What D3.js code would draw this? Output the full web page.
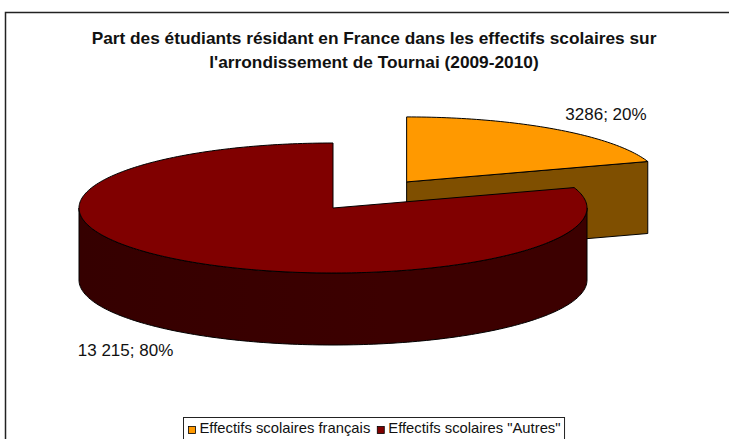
<!DOCTYPE html>
<html>
<head>
<meta charset="utf-8">
<script src="https://cdn.jsdelivr.net/npm/d3@7"></script>
<style>
  body { margin: 0; background: #fff; }
  svg { display: block; font-family: Arial, "Liberation Sans", sans-serif; }
</style>
</head>
<body>
<div id="chart"></div>
<script>
// data
const categories = ["Effectifs scolaires français", "Effectifs scolaires \"Autres\""];
const values = [3286, 13215];
const labels = ["3286; 20%", "13 215; 80%"];
const titleLines = [
  "Part des étudiants résidant en France dans les effectifs scolaires sur",
  "l'arrondissement de Tournai (2009-2010)"
];
const topColors = ["#ff9900", "#800000"];
const sideColors = ["#7f4f00", "#3c0000"];

const width = 729, height = 439;

const svg = d3.select("#chart").append("svg")
  .attr("width", width)
  .attr("height", height);

// outer frame (goes past the right / bottom of the picture)
svg.append("rect")
  .attr("x", 5.5).attr("y", 12.5)
  .attr("width", 900).attr("height", 600)
  .attr("fill", "none")
  .attr("stroke", "#222")
  .attr("stroke-width", 1.5);

// title
svg.selectAll(".title")
  .data(titleLines)
  .join("text")
  .attr("class", "title")
  .attr("x", 374)
  .attr("y", (d, i) => 44 + i * 24)
  .attr("text-anchor", "middle")
  .style("font-size", "17.3px")
  .style("font-weight", "bold")
  .attr("fill", "#111")
  .text(d => d);

// 3d pie geometry
const cx = 333, cy = 208, rx = 254, ry = 65, depth = 72;
const explode = [0.495, 0];

const pie = d3.pie().sort(null).startAngle(0).endAngle(2 * Math.PI);
const arcs = pie(values);

// point on ellipse; angle measured clockwise from the top
const pt = (c, a, dy = 0) => [c[0] + rx * Math.sin(a), c[1] - ry * Math.cos(a) + dy];
const line = d3.line();

function rimPoints(c, a0, a1, dy) {
  const n = Math.max(2, Math.ceil(Math.abs(a1 - a0) / 0.02));
  return d3.range(n + 1).map(i => pt(c, a0 + (a1 - a0) * i / n, dy));
}

arcs.forEach((d, i) => {
  const mid = (d.startAngle + d.endAngle) / 2;
  d.center = [cx + explode[i] * rx * Math.sin(mid), cy - explode[i] * ry * Math.cos(mid)];
  d.mid = mid;
});

const defs = svg.append("defs");
sideColors.forEach((c, i) => {
  const g = defs.append("linearGradient").attr("id", "side" + i)
    .attr("x1", "0%").attr("x2", "100%");
  g.append("stop").attr("offset", "0%").attr("stop-color", d3.color(c).darker(0.35));
  g.append("stop").attr("offset", "60%").attr("stop-color", c);
  g.append("stop").attr("offset", "100%").attr("stop-color", c);
});

const pieG = svg.append("g");

arcs.forEach((d, i) => {
  const g = pieG.append("g");
  const c = d.center;
  const a0 = d.startAngle, a1 = d.endAngle;

  // radial faces, only the ones turned to the viewer
  [[a0, Math.sin(a0) < -1e-6], [a1, Math.sin(a1) > 1e-6]].forEach(([a, visible]) => {
    if (!visible) return;
    const p = pt(c, a);
    g.append("path")
      .attr("d", line([c, p, [p[0], p[1] + depth], [c[0], c[1] + depth]]) + "Z")
      .attr("fill", sideColors[i])
      .attr("stroke", "#000")
      .attr("stroke-width", 1);
  });

  // outer curved side: front half only (pi/2 .. 3pi/2)
  const s0 = Math.max(a0, Math.PI / 2), s1 = Math.min(a1, 3 * Math.PI / 2);
  if (s1 > s0) {
    const top = rimPoints(c, s0, s1, 0);
    const bottom = rimPoints(c, s1, s0, depth);
    g.append("path")
      .attr("d", line(top.concat(bottom)) + "Z")
      .attr("fill", "url(#side" + i + ")")
      .attr("stroke", "#000")
      .attr("stroke-width", 1);
  }

  // top face
  g.append("path")
    .attr("d", line([c].concat(rimPoints(c, a0, a1, 0))) + "Z")
    .attr("fill", topColors[i])
    .attr("stroke", "#000")
    .attr("stroke-width", 1);
});

// data labels
svg.selectAll(".lbl")
  .data(arcs)
  .join("text")
  .attr("class", "lbl")
  .attr("x", d => {
    const p = pt(d.center, d.mid);
    return Math.sin(d.mid) >= 0 ? p[0] + 10 : p[0] - 11;
  })
  .attr("y", d => {
    const p = pt(d.center, d.mid);
    return Math.cos(d.mid) >= 0 ? p[1] - 9 : p[1] + depth + 23;
  })
  .attr("text-anchor", d => Math.sin(d.mid) >= 0 ? "start" : "end")
  .style("font-size", "17px")
  .attr("fill", "#111")
  .text((d, i) => labels[i]);

// legend
const legend = svg.append("g").attr("transform", "translate(183.5,417.5)");
const legendBox = legend.append("rect")
  .attr("height", 24)
  .attr("fill", "#fff")
  .attr("stroke", "#222")
  .attr("stroke-width", 1);

let lx = 5;
categories.forEach((name, i) => {
  legend.append("rect")
    .attr("x", lx).attr("y", 9)
    .attr("width", 7).attr("height", 7)
    .attr("fill", topColors[i])
    .attr("stroke", "#000")
    .attr("stroke-width", 0.8);
  const t = legend.append("text")
    .attr("x", lx + 11).attr("y", 15.5)
    .style("font-size", "14.8px")
    .attr("fill", "#111")
    .text(name);
  lx += 11 + t.node().getComputedTextLength() + 7;
});
legendBox.attr("width", lx - 3);
</script>
</body>
</html>
